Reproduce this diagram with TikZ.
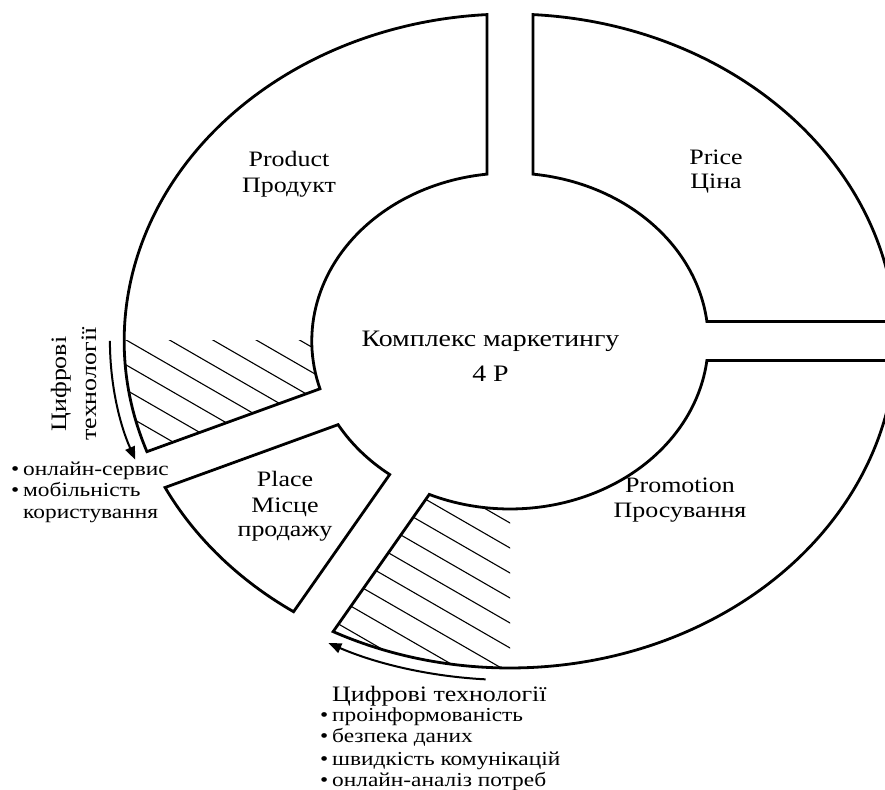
\documentclass[tikz,border=0pt]{standalone}
\usepackage{fontspec}
\setmainfont{Liberation Serif}[FakeStretch=1.18]
\usetikzlibrary{arrows.meta}
\pgfmathsetmacro{\RingO}{327}
\pgfmathsetmacro{\RingI}{168}
\pgfmathsetmacro{\GapO}{asin(19.5/327)}
\pgfmathsetmacro{\GapI}{asin(19.5/168)}
\newcommand\ringsector[2]{(#1+\GapO:\RingO) arc[start angle=#1+\GapO, end angle=#2-\GapO, radius=\RingO] -- (#2-\GapI:\RingI) arc[start angle=#2-\GapI, end angle=#1+\GapI, radius=\RingI] -- cycle}
\newcommand\bul{\llap{\textbullet\hspace{4pt}}}
\begin{document}
\begin{tikzpicture}[x=1pt,y=1pt,
  border/.style={line width=2.8pt, line join=miter},
  hatchline/.style={line width=1.1pt},
  flowarrow/.style={line width=2pt, -{Triangle[length=13pt,width=10pt]}},
  lbl/.style={inner sep=0pt, anchor=base, font=\fontsize{22}{26}\selectfont},
  ctr/.style={inner sep=0pt, anchor=base, font=\fontsize{23.6}{28}\selectfont},
  head/.style={inner sep=0pt, font=\fontsize{22}{26}\selectfont},
  item/.style={inner sep=0pt, anchor=base west, font=\fontsize{19.8}{22}\selectfont}]
\useasboundingbox (0,0) rectangle (885,789);
\clip (0,0) rectangle (885,789);

\begin{scope}[shift={(510,448)},xscale=1.18]
  % hatch in Product
  \begin{scope}
    \clip \ringsector{90}{203.2};
    \clip (-400,0) rectangle (0,-400);
    \foreach \k in {-20,...,10} {
      \pgfmathsetmacro\cc{-195.5+25*\k}
      \draw[hatchline] (-420,\cc+286) -- (20,\cc-13.6);
    }
  \end{scope}
  % hatch in Promotion
  \begin{scope}
    \clip \ringsector{239.3}{360};
    \clip (-400,0) rectangle (0,-400);
    \foreach \k in {-20,...,10} {
      \pgfmathsetmacro\cc{-207+25*\k}
      \draw[hatchline] (-420,\cc+286) -- (20,\cc-13.6);
    }
  \end{scope}
  % sectors
  \draw[border] \ringsector{0}{90};
  \draw[border] \ringsector{90}{203.2};
  \draw[border] \ringsector{203.2}{239.3};
  \draw[border] \ringsector{239.3}{360};
  % arrows
  \coordinate (la0) at (180:339);
  \draw[flowarrow] (la0) arc[start angle=180, end angle=200.5, radius=339];
  \coordinate (ba0) at (266.5:339);
  \draw[flowarrow] (ba0) arc[start angle=266.5, end angle=243, radius=339];
\end{scope}

% sector labels
\node[lbl] (prodA) at (289,622) {Product};
\node[lbl] (prodB) at (289,596) {Продукт};
\node[lbl] (priceA) at (716,624) {Price};
\node[lbl] (priceB) at (716,600) {Ціна};
\node[ctr] (cA) at (490.5,442) {Комплекс маркетингу};
\node[ctr] (cB) at (490.5,407) {4 P};
\node[lbl] (promA) at (680,296) {Promotion};
\node[lbl] (promB) at (680,271) {Просування};
\node[lbl] (plA) at (285,302) {Place};
\node[lbl] (plB) at (285,276) {Місце};
\node[lbl] (plC) at (285,252) {продажу};

% left annotation
\node[head, rotate=90, anchor=base] (lhA) at (66,405) {Цифрові};
\node[head, rotate=90, anchor=base] (lhB) at (96,405) {технології};
\node[item] (li1) at (23,313) {\bul онлайн-сервис};
\node[item] (li2) at (23,292) {\bul мобільність};
\node[item] (li3) at (23,270) {користування};

% bottom annotation
\node[head, anchor=base west] (bh) at (332,87) {Цифрові технології};
\node[item] (bi1) at (332,67) {\bul проінформованість};
\node[item] (bi2) at (332,46) {\bul безпека даних};
\node[item] (bi3) at (332,24) {\bul швидкість комунікацій};
\node[item] (bi4) at (332,3) {\bul онлайн-аналіз потреб};
\end{tikzpicture}
\end{document}
